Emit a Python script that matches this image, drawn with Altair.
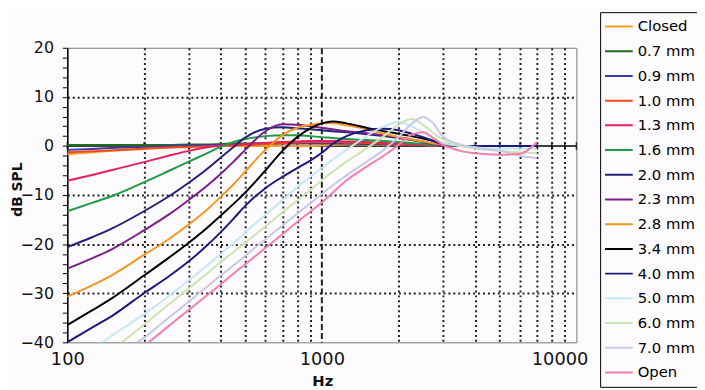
import altair as alt
import pandas as pd

FONT = "DejaVu Sans"

FREQ = [100, 125, 150, 200, 250, 300, 350, 400, 450, 500,
        600, 700, 800, 900, 1000, 1100, 1250, 1500, 1750, 2000,
        2250, 2500, 2750, 3000, 3500, 4000, 5000, 6000, 7000]

SERIES = ["Closed", "0.7 mm", "0.9 mm", "1.0 mm", "1.3 mm", "1.6 mm", "2.0 mm",
          "2.3 mm", "2.8 mm", "3.4 mm", "4.0 mm", "5.0 mm", "6.0 mm", "7.0 mm", "Open"]

CLOSED = [-1.7, -1.3, -1.0, -0.6, -0.3, -0.1, 0, 0, 0, 0,
          0, 0, 0, 0, 0.1, 0.2, 0.3, 0.3, 0.3, 0.3,
          0.3, 0.2, 0.1, 0, 0, 0, 0, 0, 0]
G07 = [0.2, 0.2, 0.2, 0.2, 0.2, 0.3, 0.3, 0.4, 0.5, 0.5,
       0.6, 0.7, 0.8, 0.8, 0.8, 0.8, 0.7, 0.6, 0.5, 0.4,
       0.3, 0.2, 0.1, 0, 0, 0, 0, 0, 0]
B09 = [-0.8, -0.6, -0.4, -0.2, 0, 0.1, 0.2, 0.2, 0.3, 0.3,
       0.4, 0.5, 0.5, 0.5, 0.5, 0.5, 0.5, 0.4, 0.4, 0.3,
       0.3, 0.2, 0.1, 0, 0, 0, 0, 0, 0]
R10 = [-1.3, -1.1, -0.9, -0.5, -0.3, -0.2, -0.1, 0, 0.1, 0.2,
       0.4, 0.6, 0.7, 0.8, 0.8, 0.8, 0.7, 0.6, 0.5, 0.4,
       0.3, 0.2, 0.1, 0, 0, 0, 0, 0, 0]
C13 = [-7.1, -5.9, -4.9, -3.3, -2.0, -1.0, -0.3, 0.1, 0.3, 0.4,
       0.6, 0.8, 0.9, 1.0, 1.0, 1.0, 0.9, 0.8, 0.6, 0.5,
       0.4, 0.2, 0.1, 0, 0, 0, 0, 0, 0]
G16 = [-13.3, -11.6, -10.2, -7.4, -5.1, -3.2, -1.6, -0.2, 0.8, 1.4,
       2.0, 2.2, 2.2, 2.0, 1.8, 1.6, 1.4, 1.2, 1.0, 0.8,
       0.6, 0.4, 0.2, 0, 0, 0, 0, 0, 0]
N20 = [-20.6, -18.6, -16.8, -13.3, -10.3, -7.5, -4.9, -2.4, -0.2, 1.7,
       3.5, 3.8, 3.6, 3.4, 3.2, 3.0, 2.8, 2.4, 2.0, 1.6,
       1.2, 0.8, 0.4, 0, 0, 0, 0, 0, 0]
P23 = [-25.0, -22.9, -21.0, -17.2, -14.0, -11.0, -8.3, -5.7, -3.2, -0.8,
       3.0, 4.4, 4.3, 4.0, 3.7, 3.4, 3.0, 2.6, 2.2, 1.8,
       1.3, 0.9, 0.4, 0, 0, 0, 0, 0, 0]
O28 = [-30.7, -28.4, -26.3, -22.2, -19.0, -16.0, -13.2, -10.4, -7.8, -5.2,
       -0.8, 2.2, 3.7, 4.3, 4.6, 4.6, 4.2, 3.4, 2.5, 1.8,
       1.3, 0.9, 0.5, 0.2, 0, 0, 0, 0, 0]
K34 = [-36.5, -33.5, -31.0, -26.4, -22.8, -19.7, -16.9, -14.2, -11.8, -9.5,
       -5.0, -1.0, 1.8, 3.6, 4.6, 5.0, 4.6, 3.7, 3.0, 2.5,
       2.0, 1.5, 1.0, 0.5, 0, 0, 0, 0, 0]
N40 = [-40.0, -37.0, -34.6, -30.0, -26.6, -23.5, -20.5, -17.6, -14.8, -12.2,
       -8.6, -6.3, -4.5, -3.0, -1.4, 0.4, 2.0, 3.2, 3.5, 3.2,
       2.5, 1.8, 1.0, 0.3, 0, 0, 0, 0, 0]
C50 = [None, -41.5, -38.6, -34.3, -30.6, -27.4, -24.6, -22.0, -19.8, -17.6,
       -14.0, -11.0, -8.4, -6.3, -4.5, -2.8, -0.8, 2.0, 4.0, 4.9,
       4.0, 2.8, 1.6, 0.6, 0, -0.3, -0.5, -0.5, -0.6]
L60 = [None, None, -41.6, -36.4, -32.3, -29.0, -26.2, -23.7, -21.6, -19.7,
       -16.4, -13.5, -11.1, -9.0, -7.0, -5.3, -3.2, -0.5, 2.0, 4.3,
       5.5, 4.3, 2.6, 1.3, 0, -0.5, -1.0, -1.3, -1.5]
V70 = [None, None, -43.0, -39.1, -35.0, -31.7, -28.9, -26.4, -24.3, -22.4,
       -19.0, -16.2, -13.8, -11.7, -9.8, -8.1, -6.0, -3.2, -0.8, 1.8,
       4.5, 5.9, 4.5, 1.8, 0.3, -0.3, -1.0, -2.0, -2.5]
OPEN = [None, None, None, -40.8, -36.7, -33.4, -30.6, -28.2, -26.0, -24.1,
        -20.8, -18.0, -15.5, -13.4, -11.5, -9.6, -7.0, -4.2, -2.0, 0.2,
        2.3, 2.8, 1.5, 0.2, -1.0, -1.5, -1.8, -1.6, 0.8]

VALUES = [CLOSED, G07, B09, R10, C13, G16, N20, P23, O28, K34, N40, C50, L60, V70, OPEN]

COLORS = ["#f5a020", "#1e6e1e", "#3a3aa8", "#f04a1a", "#e8205a", "#1f9a45", "#22227a",
          "#7a1f85", "#f7961c", "#000000", "#1a1a7e", "#c4e8f2", "#c9e6b0", "#c9c8ea", "#f27fac"]
WIDTHS = [2, 2, 2, 2, 2, 2, 2, 2, 2, 2.5, 2.5, 1.5, 1.5, 1.5, 1.5]

XT = [100, 200, 300, 400, 500, 600, 700, 800, 900, 1000,
      2000, 3000, 4000, 5000, 6000, 7000, 8000, 9000, 10000]
YT = list(range(-40, 21, 2))

rows = []
for s, vals in zip(SERIES, VALUES):
    for f, v in zip(FREQ, vals):
        if v is not None:
            rows.append({"series": s, "f": f, "db": v})
df = pd.DataFrame(rows)

zero_df = pd.DataFrame({"db": [0]})
tick_df = pd.DataFrame({"f": XT, "db": [0] * len(XT)})

x_scale = alt.Scale(type="log", domain=[100, 10000], nice=False)
y_scale = alt.Scale(domain=[-40, 20], nice=False, zero=False)

x_axis = alt.Axis(
    values=XT, format="d",
    labelExpr="(datum.value == 100 || datum.value == 1000 || datum.value == 10000) ? datum.label : ''",
    title="Hz", grid=True, gridColor="#222", gridWidth=2,
    gridDash={"condition": {"test": "datum.value == 1000", "value": [6, 3]}, "value": [2, 3]},
    gridOpacity={"condition": {"test": "datum.value == 100 || datum.value == 10000", "value": 0}, "value": 1},
    domain=False, ticks=False, labelFlush=False, labelOverlap=False,
    labelFont=FONT, labelFontSize=18, labelColor="#111", labelPadding=8,
    labelOffset={"condition": {"test": "datum.value == 10000", "value": -17}, "value": 0},
    titleFont=FONT, titleFontSize=15, titleFontWeight="bold", titleColor="#111",
    titleX=258, titleY=39, titleBaseline="middle", titleAlign="center",
)
y_axis = alt.Axis(
    values=YT, labelExpr="datum.value % 10 == 0 ? datum.label : ''",
    title="dB SPL", grid=True, gridColor="#222", gridWidth=2, gridDash=[2, 3],
    gridOpacity={"condition": {"test": "datum.value % 10 != 0 || datum.value == 0 || datum.value == 20 || datum.value == -40", "value": 0}, "value": 1},
    domainColor="black", domainWidth=1.5, tickColor="black", tickSize=5, tickWidth=1,
    labelOverlap=False, labelFont=FONT, labelFontSize=16, labelPadding=9, labelColor="#111",
    titleFont=FONT, titleFontSize=14, titleFontWeight="bold", titleColor="#111",
    titleAngle=270, titleX=-50, titleY=143, titleBaseline="middle", titleAlign="center",
)

X = alt.X("f:Q", scale=x_scale, axis=x_axis)
Y = alt.Y("db:Q", scale=y_scale, axis=y_axis)

zero_rule = alt.Chart(zero_df).mark_rule(color="black", strokeWidth=1.5).encode(y=Y)
zero_ticks = alt.Chart(tick_df).mark_tick(orient="vertical", size=8, thickness=1.5, color="black").encode(x=X, y=Y)

lines = alt.Chart(df).mark_line(clip=True, interpolate="monotone").encode(
    x=X, y=Y,
    color=alt.Color("series:N", sort=SERIES,
                    scale=alt.Scale(domain=SERIES, range=COLORS),
                    legend=alt.Legend(title=None, orient="none", legendX=539, legendY=-36,
                                      padding=4, strokeColor="black", labelFont=FONT,
                                      labelFontSize=15, labelColor="black", symbolType="stroke",
                                      symbolSize=784, symbolStrokeWidth=2, clipHeight=21,
                                      rowPadding=4, labelOffset=4, labelLimit=200)),
    strokeWidth=alt.StrokeWidth("series:N", scale=alt.Scale(domain=SERIES, range=WIDTHS), legend=None),
    order=alt.Order("f:Q"),
)

chart = alt.layer(zero_rule, zero_ticks, lines).properties(
    width=515, height=298,
    autosize=alt.AutoSizeParams(type="none"),
    padding={"left": 60, "top": 38, "right": 122, "bottom": 46},
    background="#fefbfe",
).configure_view(stroke="#777", strokeWidth=1)

chart.save("out.html", embed_options={"renderer": "svg", "actions": False})
